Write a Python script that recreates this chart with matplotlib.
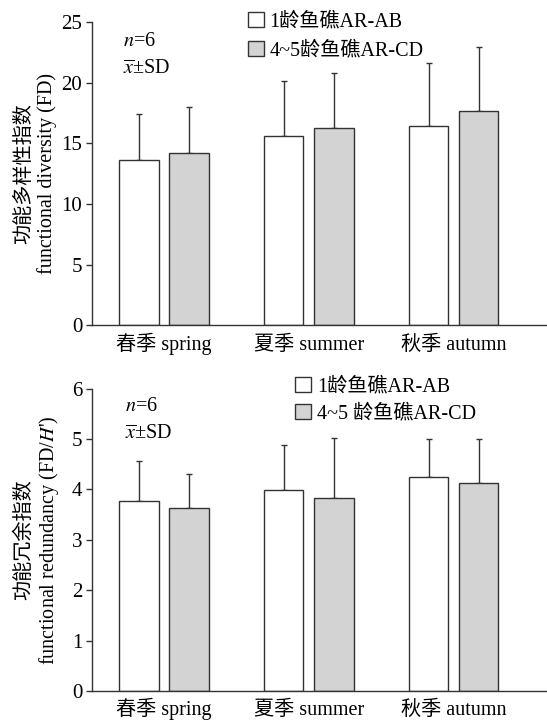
import matplotlib
matplotlib.use("Agg")
import matplotlib.pyplot as plt
import numpy as np
from matplotlib.patches import Patch

plt.rcParams['font.family'] = ['Liberation Serif', 'Noto Sans CJK SC']
plt.rcParams['mathtext.fontset'] = 'stix'

seasons = ['春季 spring', '夏季 summer', '秋季 autumn']

# functional diversity (FD), mean and SD
fd_ab = [13.6, 15.6, 16.4]
fd_ab_sd = [3.8, 4.5, 5.2]
fd_cd = [14.2, 16.3, 17.7]
fd_cd_sd = [3.8, 4.5, 5.2]

# functional redundancy (FD/H'), mean and SD
fr_ab = [3.78, 3.99, 4.24]
fr_ab_sd = [0.78, 0.90, 0.76]
fr_cd = [3.64, 3.84, 4.13]
fr_cd_sd = [0.66, 1.19, 0.87]

fd_ticks = [0, 5, 10, 15, 20, 25]
fr_ticks = [0, 1, 2, 3, 4, 5, 6]

WHITE = '#ffffff'
GRAY = '#d3d3d3'
EDGE = '#333333'

fig = plt.figure(figsize=(5.47, 7.24), dpi=100)
ax1 = fig.add_axes([0.168, 0.5507, 0.832, 0.4189])
ax2 = fig.add_axes([0.168, 0.0456, 0.832, 0.4175])

x = np.arange(len(seasons))
w = 0.273
off = 0.173
FS = 14.5
TFS = 15


def panel(ax, a, a_sd, c, c_sd, ticks, ylabel, label_x, leg_labels, leg_anchor,
          leg_spacing, note_pos):
    ax.bar(x - off, a, w, color=WHITE, edgecolor=EDGE, linewidth=1.0, zorder=2)
    ax.bar(x + off, c, w, color=GRAY, edgecolor=EDGE, linewidth=1.0, zorder=2)
    ax.errorbar(x - off, a, yerr=[np.zeros(3), a_sd], fmt='none', ecolor=EDGE,
                elinewidth=1.0, capsize=2.5, capthick=1.0, zorder=1)
    ax.errorbar(x + off, c, yerr=[np.zeros(3), c_sd], fmt='none', ecolor=EDGE,
                elinewidth=1.0, capsize=2.5, capthick=1.0, zorder=1)
    ax.set_xlim(-0.4966, 2.645)
    ax.set_ylim(ticks[0], ticks[-1])
    ax.set_yticks(ticks)
    ax.set_xticks(x)
    ax.set_xticklabels(seasons, fontsize=FS, va='baseline')
    ax.tick_params(axis='x', length=0, pad=17.5)
    ax.tick_params(axis='y', direction='out', length=4, width=1.0, labelsize=TFS, pad=3,
                   color=EDGE)
    for s in ('top', 'right'):
        ax.spines[s].set_visible(False)
    for s in ('left', 'bottom'):
        ax.spines[s].set_color(EDGE)
        ax.spines[s].set_linewidth(1.0)
    ax.set_ylabel(ylabel, fontsize=FS, linespacing=1.15)
    ax.yaxis.set_label_coords(label_x, 0.5)
    handles = [Patch(facecolor=WHITE, edgecolor=EDGE, linewidth=1.0),
               Patch(facecolor=GRAY, edgecolor=EDGE, linewidth=1.0)]
    ax.legend(handles, leg_labels, loc='upper left', bbox_to_anchor=leg_anchor,
              frameon=False, fontsize=FS, handlelength=0.8, handleheight=0.8,
              handletextpad=0.3, labelspacing=leg_spacing, borderaxespad=0, borderpad=0)
    ax.text(note_pos[0], note_pos[1], r'$n$=6', transform=ax.transAxes,
            fontsize=FS, va='center', ha='left')
    ax.text(note_pos[0], note_pos[1] - 0.09, r'$\overline{x}$±SD', transform=ax.transAxes,
            fontsize=FS, va='center', ha='left')


panel(ax1, fd_ab, fd_ab_sd, fd_cd, fd_cd_sd, fd_ticks,
      '功能多样性指数\nfunctional diversity (FD)', -0.077,
      ['1龄鱼礁AR-AB', '4~5龄鱼礁AR-CD'], (0.342, 1.033), 0.46, (0.068, 0.935))
panel(ax2, fr_ab, fr_ab_sd, fr_cd, fr_cd_sd, fr_ticks,
      "功能冗余指数\nfunctional redundancy (FD/$\\mathit{H}$')", -0.068,
      ['1龄鱼礁AR-AB', '4~5 龄鱼礁AR-CD'], (0.447, 1.039), 0.36, (0.072, 0.94))

fig.savefig('out.png', dpi=100)
